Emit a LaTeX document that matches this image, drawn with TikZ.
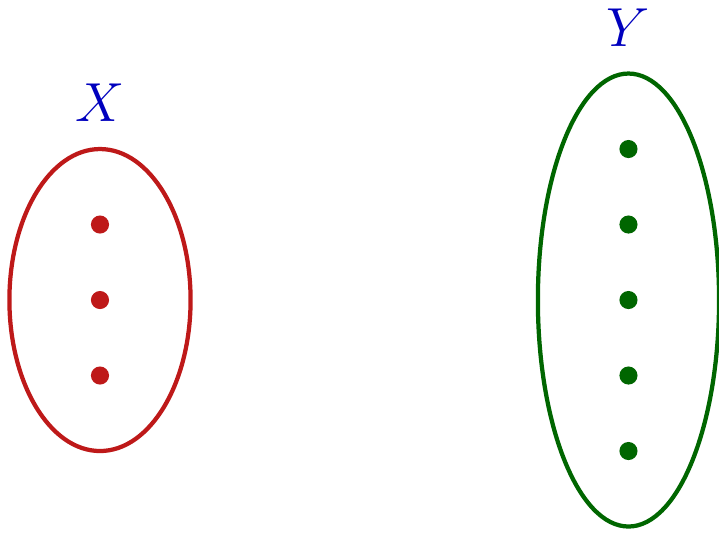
\documentclass[tikz,border=0pt]{standalone}
\usepackage{tikz}
\usetikzlibrary{shapes.geometric, positioning}
\definecolor{setred}{RGB}{190,25,25}
\definecolor{setgreen}{RGB}{0,102,0}
\definecolor{setblue}{RGB}{0,0,190}

\begin{document}
\begin{tikzpicture}[
    setline/.style={ellipse, draw, line width=1.6pt, inner sep=0pt, minimum width=2.4cm},
    elem/.style={circle, fill, inner sep=0pt, minimum size=0.24cm},
    setname/.style={text=setblue, font=\fontsize{22.5}{27}\selectfont}
  ]
    \useasboundingbox (-1.3245, -3.073) rectangle (8.199, 3.974);

    % 1. Tap X mau do (3 phan tu)
    \node[setline, setred, minimum height=4cm] (X) at (0,0) {};
    \foreach \i/\y in {1/1, 2/0, 3/-1}
        \node[elem, setred] (x\i) at (0,\y) {};
    \node[setname] (labX) at (0,2.61) {$X$};

    % 2. Tap Y mau xanh la (5 phan tu)
    \node[setline, setgreen, minimum height=6cm] (Y) at (7,0) {};
    \foreach \i/\y in {1/2, 2/1, 3/0, 4/-1, 5/-2}
        \node[elem, setgreen] (y\i) at (7,\y) {};
    \node[setname] (labY) at (7,3.61) {$Y$};

\end{tikzpicture}
\end{document}
